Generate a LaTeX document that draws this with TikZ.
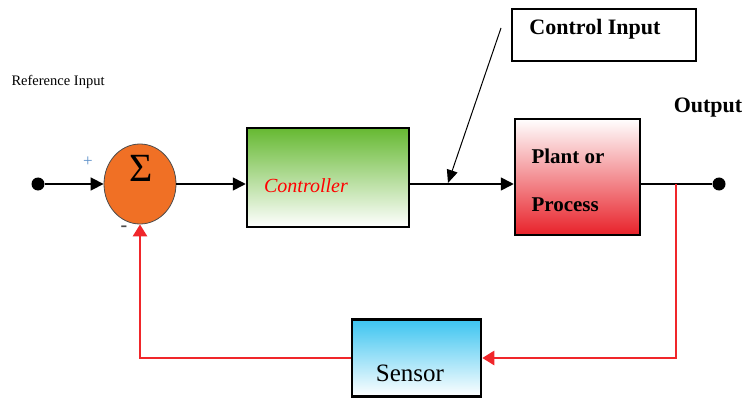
\documentclass[tikz,border=0pt]{standalone}
\usepackage{fontspec}
\setmainfont{Liberation Serif}[BoldFont={Liberation Serif Bold},ItalicFont={Liberation Serif Italic}]
\usetikzlibrary{arrows.meta,shapes.geometric}
\definecolor{sumorange}{HTML}{F07025}
\definecolor{ctrlgreen}{HTML}{66B932}
\definecolor{plantred}{HTML}{E8222A}
\definecolor{sensblue}{HTML}{3CC4F0}
\definecolor{fbred}{HTML}{F0262A}
\definecolor{plusblue}{HTML}{5B8FC8}
\tikzset{
  blockbox/.style={draw=black, line width=2.5pt, rectangle, inner sep=0pt},
  conn/.style={draw=black, line width=1.6pt, -{Triangle[length=13pt,width=13pt]}},
  fbconn/.style={draw=fbred, line width=2.6pt, -{Triangle[length=12pt,width=14pt]}},
  dotnode/.style={circle, fill=black, minimum size=13pt, inner sep=0pt},
}
\begin{document}
\begin{tikzpicture}[x=1pt,y=-1pt]
\useasboundingbox (0,0) rectangle (746,398);
% nodes
\node[dotnode] (inp) at (38,184) {};
\node[ellipse, draw=black!70, line width=0.8pt, fill=sumorange, minimum width=72pt, minimum height=80pt, inner sep=0pt] (sum) at (140,184) {};
\node[font=\fontsize{40}{40}\selectfont] (sig) at (141,168) {Σ};
\node[blockbox, minimum width=162pt, minimum height=99pt, top color=ctrlgreen, bottom color=white] (ctrl) at (328,177.5) {};
\node[font=\fontsize{20}{20}\selectfont\itshape, text=red] (ctrltxt) at (306,186) {Controller};
\node[blockbox, minimum width=125pt, minimum height=116pt, top color=white, bottom color=plantred] (plant) at (577.5,177) {};
\node[font=\fontsize{21}{21}\selectfont\bfseries, anchor=west] (pl1) at (528,156) {Plant or};
\node[font=\fontsize{21}{21}\selectfont\bfseries, anchor=west] (pl2) at (528,205) {Process};
\node[draw=black, line width=1.5pt, minimum width=184pt, minimum height=52pt, inner sep=0pt] (ci) at (604,35) {};
\node[font=\fontsize{22}{22}\selectfont\bfseries] (citxt) at (595,29) {Control Input};
\node[dotnode] (outdot) at (719,184) {};
\node[font=\fontsize{22}{22}\selectfont\bfseries] (outtxt) at (708,108) {Output};
\node[blockbox, minimum width=129pt, minimum height=77pt, top color=sensblue, bottom color=white] (sensor) at (416.5,358) {};
\node[font=\fontsize{25}{25}\selectfont] (senstxt) at (410,373) {Sensor};
\node[font=\fontsize{14.5}{14.5}\selectfont, anchor=west] (reftxt) at (8,82) {Reference Input};
\node[font=\fontsize{17}{17}\selectfont, text=plusblue] (plus) at (88,162) {+};
\node[font=\fontsize{20}{20}\selectfont\bfseries, text=black!70] (minus) at (124,229) {-};
% coordinates
\coordinate (tap) at (676,184);
\coordinate (ciTail) at (501,28);
\coordinate (ciHead) at (448,183);
% connectors
\draw[conn] (inp) -- (sum.west);
\draw[conn] (sum.east) -- (ctrl.west |- sum.east);
\draw[conn] (ctrl.east |- inp) -- (plant.west |- inp);
\draw[draw=black, line width=1.6pt] (plant.east |- inp) -- (outdot);
\draw[draw=black, line width=1pt, -{Triangle[length=13pt,width=11pt]}] (ciTail) -- (ciHead);
\draw[fbconn] (tap) |- (sensor.east);
\draw[fbconn] (sensor.west) -| (sum.south);
\end{tikzpicture}
\end{document}
